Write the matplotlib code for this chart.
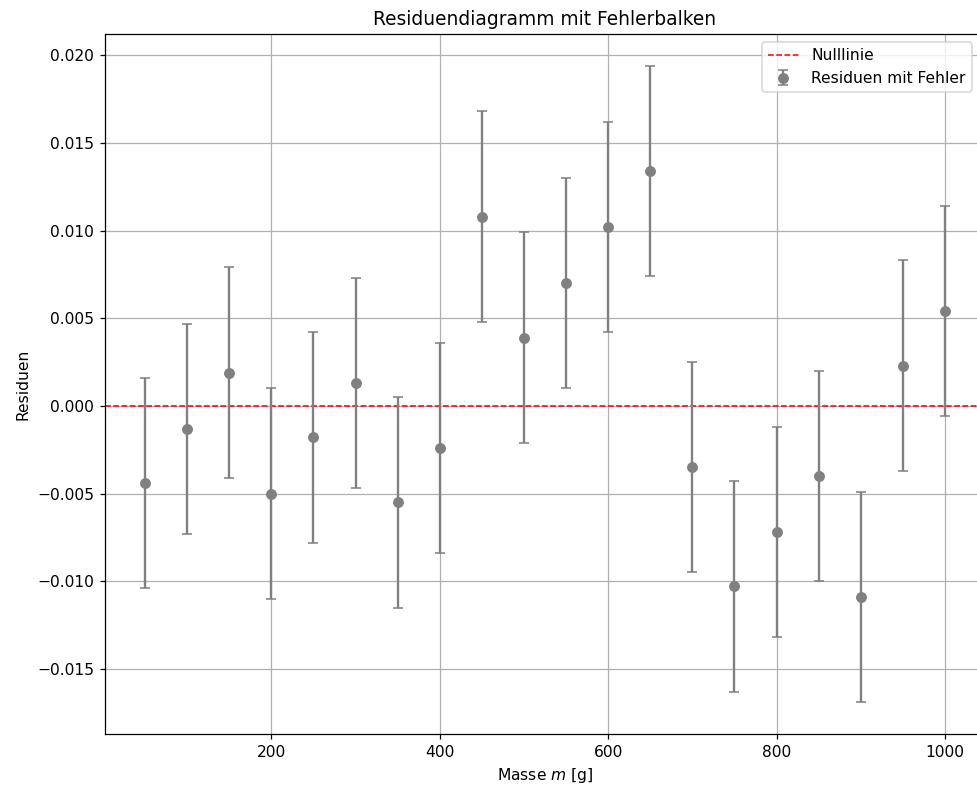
import matplotlib as mpl
mpl.use('Agg')
import matplotlib.pyplot as plt

# Masse in g und Residuen des Fits
masse = [50, 100, 150, 200, 250, 300, 350, 400, 450, 500,
         550, 600, 650, 700, 750, 800, 850, 900, 950, 1000]
residuen = [-0.0044, -0.0013, 0.0019, -0.0050, -0.0018, 0.0013, -0.0055, -0.0024, 0.0108, 0.0039,
            0.0070, 0.0102, 0.0134, -0.0035, -0.0103, -0.0072, -0.0040, -0.0109, 0.0023, 0.0054]
fehler = [0.006] * 20

dpi = 112
fig = plt.figure(figsize=(977 / dpi, 793 / dpi), dpi=dpi)
ax = fig.add_axes([105 / 977, 1 - 734 / 793, 880 / 977, 700 / 793])

ax.axhline(0, color='red', linestyle='--', linewidth=1, label='Nulllinie')
ax.errorbar(masse, residuen, yerr=fehler, fmt='o', color='gray', ecolor='gray',
            elinewidth=1.5, capsize=3, markersize=6, label='Residuen mit Fehler')

ax.set_xlabel('Masse $m$ [g]')
ax.set_ylabel('Residuen')
ax.set_title('Residuendiagramm mit Fehlerbalken')
ax.grid(True)
ax.legend(loc='upper right', bbox_to_anchor=(972 / 977, 1 - 42 / 793),
          bbox_transform=fig.transFigure, borderaxespad=0)

fig.savefig('out.png', dpi=dpi)
